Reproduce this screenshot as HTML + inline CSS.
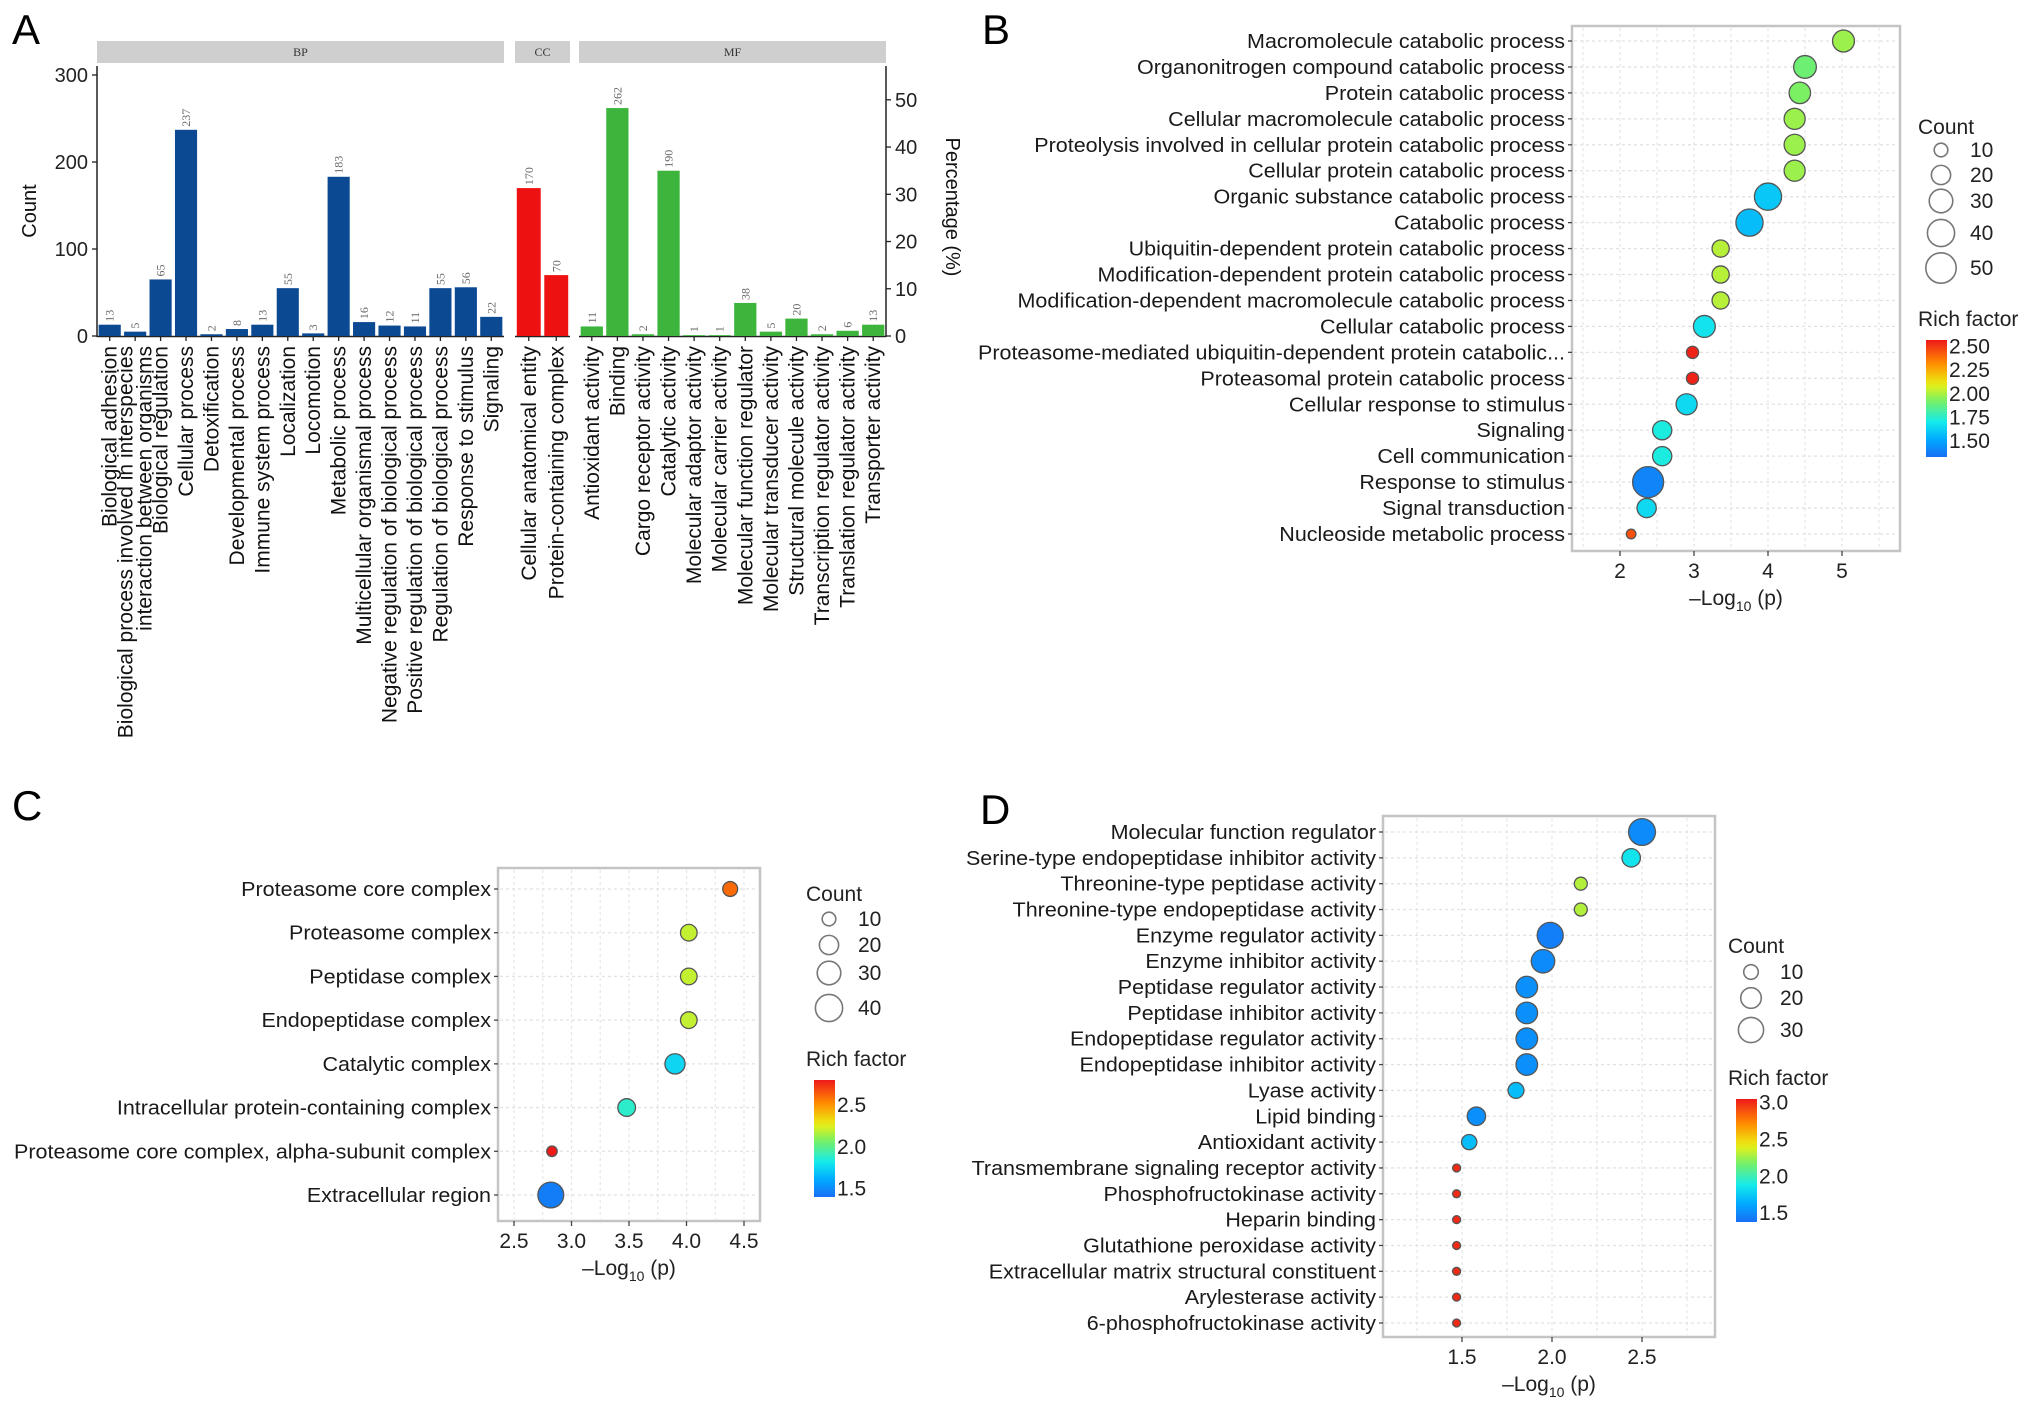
<!DOCTYPE html>
<html><head><meta charset="utf-8"><style>
html,body{margin:0;padding:0;background:#fff;}
svg{display:block;font-family:"Liberation Sans",Arial,sans-serif;}
</style></head><body>
<svg id="fig" width="2032" height="1411" viewBox="0 0 2032 1411" xmlns="http://www.w3.org/2000/svg">
<text x="12" y="44" font-size="42">A</text>
<text x="982" y="44" font-size="42">B</text>
<text x="12" y="820" font-size="42">C</text>
<text x="980" y="824" font-size="42">D</text>
</svg>
<script>
// ---------- Panel A data ----------
const bpCats = ["Biological adhesion","Biological process involved in interspecies|interaction between organisms","Biological regulation","Cellular process","Detoxification","Developmental process","Immune system process","Localization","Locomotion","Metabolic process","Multicellular organismal process","Negative regulation of biological process","Positive regulation of biological process","Regulation of biological process","Response to stimulus","Signaling"];
const bpVals = [13,5,65,237,2,8,13,55,3,183,16,12,11,55,56,22];
const ccCats = ["Cellular anatomical entity","Protein-containing complex"];
const ccVals = [170,70];
const mfCats = ["Antioxidant activity","Binding","Cargo receptor activity","Catalytic activity","Molecular adaptor activity","Molecular carrier activity","Molecular function regulator","Molecular transducer activity","Structural molecule activity","Transcription regulator activity","Translation regulator activity","Transporter activity"];
const mfVals = [11,262,2,190,1,1,38,5,20,2,6,13];
const countTicks = [0,100,200,300];
const pctTicks = [0,10,20,30,40,50];
const pctTotal = 543;

// ---------- Panel B data ----------
const bTerms = ["Macromolecule catabolic process","Organonitrogen compound catabolic process","Protein catabolic process","Cellular macromolecule catabolic process","Proteolysis involved in cellular protein catabolic process","Cellular protein catabolic process","Organic substance catabolic process","Catabolic process","Ubiquitin-dependent protein catabolic process","Modification-dependent protein catabolic process","Modification-dependent macromolecule catabolic process","Cellular catabolic process","Proteasome-mediated ubiquitin-dependent protein catabolic...","Proteasomal protein catabolic process","Cellular response to stimulus","Signaling","Cell communication","Response to stimulus","Signal transduction","Nucleoside metabolic process"];
const bLogP = [5.02,4.5,4.43,4.36,4.36,4.36,4.0,3.75,3.36,3.36,3.36,3.14,2.98,2.98,2.9,2.57,2.57,2.38,2.36,2.15];
const bCount = [26,28,25,24,24,24,40,40,16,16,16,26,8,8,24,20,20,52,20,5];
const bRich = [1.98,1.9,1.93,1.98,1.98,1.98,1.6,1.57,2.02,2.02,2.02,1.68,2.55,2.55,1.65,1.72,1.72,1.4,1.65,2.45];
const bXTicks = [2,3,4,5];
const bSizeLegend = [10,20,30,40,50];
const bRichTicks = ["2.50","2.25","2.00","1.75","1.50"];

// ---------- Panel C data ----------
const cTerms = ["Proteasome core complex","Proteasome complex","Peptidase complex","Endopeptidase complex","Catalytic complex","Intracellular protein-containing complex","Proteasome core complex, alpha-subunit complex","Extracellular region"];
const cLogP = [4.38,4.02,4.02,4.02,3.9,3.48,2.83,2.82];
const cCount = [12,15,15,15,22,17,6,36];
const cRich = [2.6,2.2,2.2,2.2,1.75,1.88,2.85,1.45];
const cXTicks = ["2.5","3.0","3.5","4.0","4.5"];
const cSizeLegend = [10,20,30,40];
const cRichTicks = ["2.5","2.0","1.5"];

// ---------- Panel D data ----------
const dTerms = ["Molecular function regulator","Serine-type endopeptidase inhibitor activity","Threonine-type peptidase activity","Threonine-type endopeptidase activity","Enzyme regulator activity","Enzyme inhibitor activity","Peptidase regulator activity","Peptidase inhibitor activity","Endopeptidase regulator activity","Endopeptidase inhibitor activity","Lyase activity","Lipid binding","Antioxidant activity","Transmembrane signaling receptor activity","Phosphofructokinase activity","Heparin binding","Glutathione peroxidase activity","Extracellular matrix structural constituent","Arylesterase activity","6-phosphofructokinase activity"];
const dLogP = [2.5,2.44,2.16,2.16,1.99,1.95,1.86,1.86,1.86,1.86,1.8,1.58,1.54,1.47,1.47,1.47,1.47,1.47,1.47,1.47];
const dCount = [34,16,8,8,32,26,22,22,22,22,12,16,11,3,3,3,3,3,3,3];
const dRich = [1.5,1.85,2.3,2.3,1.45,1.5,1.52,1.52,1.52,1.52,1.7,1.52,1.7,3.0,3.0,3.0,3.0,3.0,3.0,3.0];
const dXTicks = ["1.5","2.0","2.5"];
const dSizeLegend = [10,20,30];
const dRichTicks = ["3.0","2.5","2.0","1.5"];

const NS = "http://www.w3.org/2000/svg";
const svg = document.getElementById("fig");
function mk(tag, attrs, parent, txt){
  const e = document.createElementNS(NS, tag);
  for (const k in attrs) e.setAttribute(k, attrs[k]);
  if (txt !== undefined) e.textContent = txt;
  (parent || svg).appendChild(e);
  return e;
}
const stops = [[0,[25,110,245]],[0.15,[0,170,255]],[0.3,[20,235,235]],[0.48,[120,240,100]],[0.62,[235,240,20]],[0.8,[255,140,0]],[1,[238,25,25]]];
function cmap(t){
  t = Math.max(0, Math.min(1, t));
  for (let i=1;i<stops.length;i++){
    if (t <= stops[i][0]){
      const a=stops[i-1], b=stops[i], f=(t-a[0])/(b[0]-a[0]);
      const c=a[1].map((v,j)=>Math.round(v+(b[1][j]-v)*f));
      return "rgb("+c.join(",")+")";
    }
  }
  return "rgb(238,25,25)";
}

// ================= Panel A =================
(function(){
  const g = mk("g", {});
  
  
  const y0 = 336, pxPer = 0.87;
  const yA = v => y0 - v*pxPer;
  const facets = [
    {name:"BP", x0:97, x1:504, cats:bpCats, vals:bpVals, color:"#0b4a92"},
    {name:"CC", x0:515, x1:570, cats:ccCats, vals:ccVals, color:"#ee1111"},
    {name:"MF", x0:579, x1:886, cats:mfCats, vals:mfVals, color:"#3db53d"}
  ];
  facets.forEach(f=>{
    const strip = mk("rect", {x:f.x0, y:41, width:f.x1-f.x0, height:22, fill:"#cfcfcf"}, g);
    
    
    const st = mk("text", {x:(f.x0+f.x1)/2, y:56, "font-size":12, "font-family":"Liberation Serif,serif", "text-anchor":"middle", fill:"#333"}, g, f.name);
    
    
    const n = f.cats.length, band = (f.x1-f.x0)/n, bw = band*0.87;
    mk("line", {x1:f.x0, x2:f.x1, y1:y0+0.5, y2:y0+0.5, stroke:"#222", "stroke-width":1.5}, g);
    f.cats.forEach((c,i)=>{
      const cx = f.x0 + band*(i+0.5);
      const v = f.vals[i];
      const r = mk("rect", {x:cx-bw/2, y:yA(v), width:bw, height:v*pxPer, fill:f.color}, g);
      
      
      mk("line", {x1:cx, x2:cx, y1:y0, y2:y0+5, stroke:"#222", "stroke-width":1.3}, g);
      const vt = mk("text", {transform:`translate(${cx+4},${yA(v)-3}) rotate(-90)`, "font-size":12, "font-family":"Liberation Serif,serif", fill:"#666"}, g, String(v));
      
      
      const lines = c.split("|");
      lines.forEach((ln,k)=>{
        const off = (k - (lines.length-1)/2)*19;
        const t = mk("text", {transform:`translate(${cx+7+off},${y0+10}) rotate(-90)`, "font-size":21, "text-anchor":"end", fill:"#111"}, g, ln);
        
        
      });
    });
  });
  mk("line", {x1:97, x2:97, y1:66, y2:y0+1, stroke:"#222", "stroke-width":1.5}, g);
  mk("line", {x1:886, x2:886, y1:66, y2:y0+1, stroke:"#222", "stroke-width":1.5}, g);
  countTicks.forEach(v=>{
    mk("line", {x1:92, x2:97, y1:yA(v), y2:yA(v), stroke:"#222", "stroke-width":1.3}, g);
    const t = mk("text", {x:88, y:yA(v)+7, "font-size":20, "text-anchor":"end", fill:"#222"}, g, String(v));
    
    
  });
  pctTicks.forEach(p=>{
    const y = yA(p/100*pctTotal);
    mk("line", {x1:886, x2:891, y1:y, y2:y, stroke:"#222", "stroke-width":1.3}, g);
    const t = mk("text", {x:895, y:y+7, "font-size":20, fill:"#222"}, g, String(p));
    
    
  });
  const yt = mk("text", {transform:"translate(36,211) rotate(-90)", "font-size":20, "text-anchor":"middle", fill:"#111"}, g, "Count");
  
  
  const yt2 = mk("text", {transform:"translate(946,207) rotate(90)", "font-size":20, "text-anchor":"middle", fill:"#111"}, g, "Percentage (%)");
  
  
})();

// ================= Bubble panels =================
function bubblePanel(cfg){
  const g = mk("g", {});
  
  
  const xs = v => cfg.px0 + (v - cfg.v0)*cfg.ppu;
  const n = cfg.terms.length;
  const ys = i => cfg.row0 + i*(cfg.rowN - cfg.row0)/(n-1);
  mk("rect", {x:cfg.bx0, y:cfg.by0, width:cfg.bx1-cfg.bx0, height:cfg.by1-cfg.by0, fill:"#fff", stroke:"#c4c4c4", "stroke-width":2.5}, g);
  const tickVals = cfg.ticks.map(Number);
  const step = tickVals[1]-tickVals[0];
  for (let v = tickVals[0]-step*2; v <= tickVals[tickVals.length-1]+step*2; v += step/2){
    const x = xs(v);
    if (x <= cfg.bx0+2 || x >= cfg.bx1-2) continue;
    mk("line", {x1:x, x2:x, y1:cfg.by0+2, y2:cfg.by1-2, stroke:"#e6e6e6", "stroke-width":1.2, "stroke-dasharray":"3,3"}, g);
  }
  cfg.terms.forEach((t,i)=>{
    const y = ys(i);
    mk("line", {x1:cfg.bx0+2, x2:cfg.bx1-2, y1:y, y2:y, stroke:"#e2e2e2", "stroke-width":1.3, "stroke-dasharray":"3,3"}, g);
    mk("line", {x1:cfg.bx0-4, x2:cfg.bx0, y1:y, y2:y, stroke:"#444", "stroke-width":1.3}, g);
    const lab = mk("text", {transform:`translate(${cfg.bx0-7},${y+7}) scale(1.05,1)`, "font-size":20.5, "text-anchor":"end", fill:"#1a1a1a"}, g, t);
    
    
  });
  cfg.ticks.forEach(tk=>{
    const x = xs(Number(tk));
    mk("line", {x1:x, x2:x, y1:cfg.by1, y2:cfg.by1+5, stroke:"#444", "stroke-width":1.3}, g);
    const tt = mk("text", {transform:`translate(${x},${cfg.by1+27})`, "font-size":21, "text-anchor":"middle", fill:"#222"}, g, tk);
    
    
  });
  const xt = mk("text", {transform:`translate(${(cfg.bx0+cfg.bx1)/2},${cfg.by1+54})`, "font-size":21, "text-anchor":"middle", fill:"#222"}, g);
  
  
  mk("tspan", {}, xt, "\u2013Log");
  mk("tspan", {"font-size":14, dy:6}, xt, "10");
  mk("tspan", {dy:-6}, xt, " (p)");
  const order = cfg.terms.map((_,i)=>i).sort((a,b)=>cfg.count[b]-cfg.count[a]);
  order.forEach(i=>{
    const c = mk("circle", {cx:xs(cfg.logp[i]), cy:ys(i), r:cfg.k*Math.sqrt(cfg.count[i]), fill:cmap((cfg.rich[i]-cfg.r0)/(cfg.r1-cfg.r0)), stroke:"#555", "stroke-width":1.3}, g);
    
    
  });
  const ct = mk("text", {transform:`translate(${cfg.lx},${cfg.ly})`, "font-size":21, fill:"#222"}, g, "Count");
  
  
  cfg.sizes.forEach((s,j)=>{
    const y = cfg.sizeY[j];
    const c = mk("circle", {cx:cfg.lx+23, cy:y, r:cfg.k*Math.sqrt(s), fill:"none", stroke:"#777", "stroke-width":1.6}, g);
    
    
    const tx = mk("text", {transform:`translate(${cfg.lx+52},${y+7})`, "font-size":21, fill:"#222"}, g, String(s));
    
    
  });
  const rt = mk("text", {transform:`translate(${cfg.lx},${cfg.cy0-14})`, "font-size":21, fill:"#222"}, g, "Rich factor");
  
  
  const gid = cfg.name+"-grad";
  const defs = mk("defs", {}, g);
  const lg = mk("linearGradient", {id:gid, x1:0, y1:1, x2:0, y2:0}, defs);
  for (let s=0;s<=20;s++) mk("stop", {offset:s/20, "stop-color":cmap(s/20)}, lg);
  const bar = mk("rect", {x:cfg.lx+8, y:cfg.cy0, width:21, height:cfg.cy1-cfg.cy0, fill:`url(#${gid})`}, g);
  
  
  cfg.richTicks.forEach(tk=>{
    const y = cfg.cy1 - (Number(tk)-cfg.r0)/(cfg.r1-cfg.r0)*(cfg.cy1-cfg.cy0);
    const tx = mk("text", {transform:`translate(${cfg.lx+31},${y+7})`, "font-size":21, fill:"#222"}, g, tk);
    
    
  });
}

bubblePanel({name:"panel-b-bubble-chart", terms:bTerms, logp:bLogP, count:bCount, rich:bRich, ticks:bXTicks.map(String),
  bx0:1572, bx1:1900, by0:26, by1:551, row0:41, rowN:534, px0:1620, v0:2, ppu:74, k:2.15,
  lx:1918, ly:134, sizes:bSizeLegend, sizeY:[150,175,201,233,268],
  cy0:340, cy1:457, r0:1.33, r1:2.57, richTicks:bRichTicks});

bubblePanel({name:"panel-c-bubble-chart", terms:cTerms, logp:cLogP, count:cCount, rich:cRich, ticks:cXTicks,
  bx0:498, bx1:760, by0:868, by1:1221, row0:889, rowN:1195, px0:514, v0:2.5, ppu:115, k:2.15,
  lx:806, ly:901, sizes:cSizeLegend, sizeY:[919,945,973,1008],
  cy0:1080, cy1:1197, r0:1.4, r1:2.8, richTicks:cRichTicks});

bubblePanel({name:"panel-d-bubble-chart", terms:dTerms, logp:dLogP, count:dCount, rich:dRich, ticks:dXTicks,
  bx0:1383, bx1:1715, by0:816, by1:1337, row0:832, rowN:1323, px0:1462, v0:1.5, ppu:180, k:2.3,
  lx:1728, ly:953, sizes:dSizeLegend, sizeY:[972,998,1030],
  cy0:1099, cy1:1222, r0:1.38, r1:3.05, richTicks:dRichTicks});
</script>
</body></html>
